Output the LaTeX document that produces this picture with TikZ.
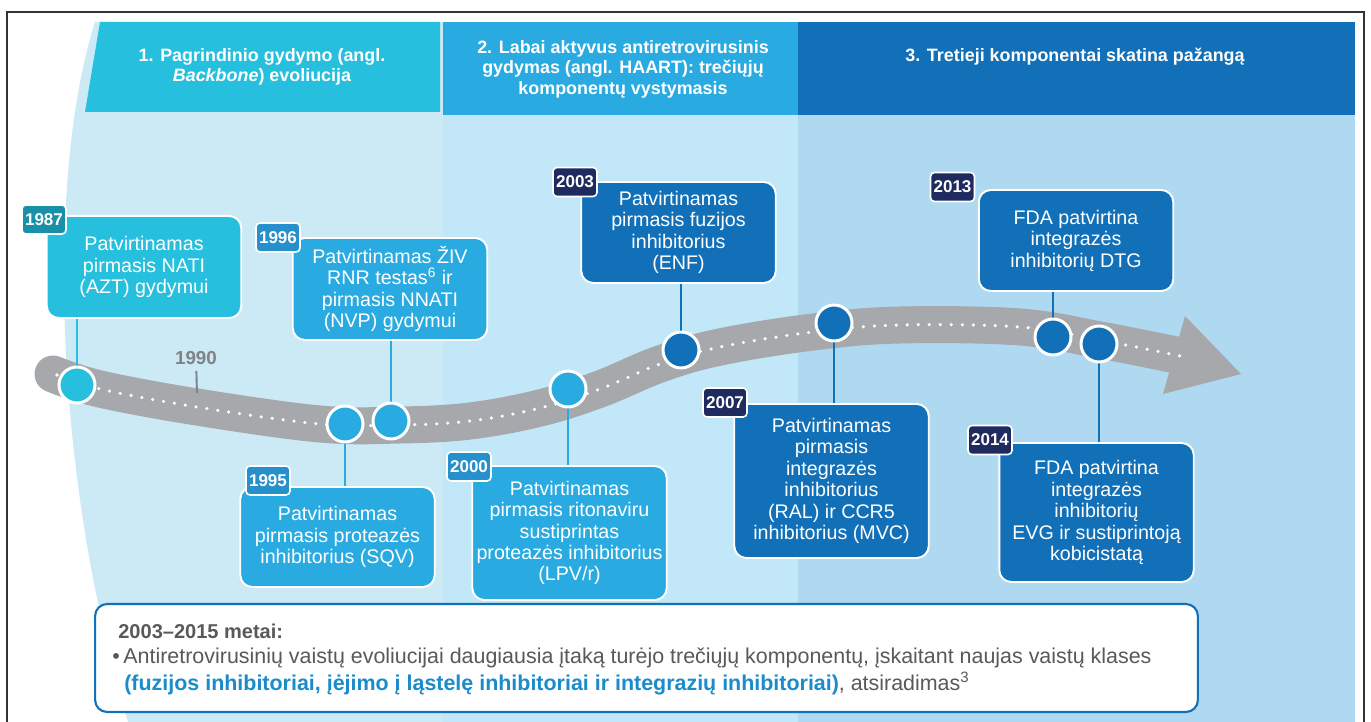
\documentclass[tikz,border=0pt]{standalone}
\usepackage{fontspec}
\setmainfont{Liberation Sans}
\definecolor{hivteal}{HTML}{26BFDD}
\definecolor{hivblue}{HTML}{29ABE2}
\definecolor{hivdark}{HTML}{1170B8}
\definecolor{tagteal}{HTML}{1A8FA8}
\definecolor{tagblue}{HTML}{2590CC}
\definecolor{tagnavy}{HTML}{1F2A5E}
\definecolor{roadgray}{HTML}{A6A8AB}
\definecolor{panelone}{HTML}{CCEAF5}
\definecolor{paneltwo}{HTML}{C1E7F8}
\definecolor{panelthree}{HTML}{AED9F1}
\definecolor{notegray}{HTML}{58595B}
\definecolor{noteblue}{HTML}{1A8CCB}
\definecolor{yeargray}{HTML}{808285}
\pgfdeclarelayer{bg}
\pgfdeclarelayer{links}
\pgfsetlayers{bg,links,main}
\begin{document}
\begin{tikzpicture}[x=0.02cm, y=-0.02cm,
            event/.style={draw=white, line width=1.1pt, rounded corners=0.24cm, text=white, align=center,
                minimum width=3.89cm, inner sep=1pt, font=\fontsize{11.2}{12.2}\selectfont},
            year/.style={draw=white, line width=0.9pt, rounded corners=0.08cm, text=white,
                minimum width=0.88cm, minimum height=0.58cm, inner sep=0pt, font=\bfseries\fontsize{9.7}{10}\selectfont},
            stop/.style={circle, draw=white, line width=1.7pt, minimum size=0.72cm, inner sep=0pt},
            link/.style={line width=1.5pt},
            header/.style={text=white, align=center, font=\bfseries\fontsize{10.2}{11.6}\selectfont},
            noteline/.style={anchor=base west, inner sep=0pt, text=notegray, font=\fontsize{12.2}{13}\selectfont}]
            \useasboundingbox (0,0) rectangle (1371,722);

            \begin{pgfonlayer}{bg}
            \fill [panelone] (95,22) .. controls (45,180) and (55,480) .. (128,722) -- (443,722) -- (443,22) -- cycle;
            \fill [paneltwo] (443,22) rectangle (798,722);
            \fill [panelthree] (798,22) rectangle (1355,722);
            \fill [hivteal] (100,22) -- (440,22) -- (440,112) -- (85,112) -- cycle;
            \fill [hivblue] (443,22) rectangle (798,115);
            \fill [hivdark] (798,22) rectangle (1355,115);

            \draw [roadgray, line width=0.74cm, line cap=round] plot [smooth, tension=0.6] coordinates {(53,374) (100,389) (197,407) (320,424) (400,425) (470,421) (540,408) (600,389) (660,364) (720,347) (813,332) (900,325) (1020,327) (1100,340) (1176,355)};
            \fill [roadgray] (1185,316) -- (1241,374) -- (1163,394) -- cycle;
            \draw [white, line width=2pt, line cap=round, dash pattern=on 0pt off 0.22cm] plot [smooth, tension=0.6] coordinates {(57,375) (100,389) (197,407) (320,424) (400,425) (470,421) (540,408) (600,389) (660,364) (720,347) (813,332) (900,325) (1020,327) (1100,340) (1185,357)};
            \end{pgfonlayer}

            \draw [line width=0.9pt, black!80] (7,722) -- (7,12) -- (1364,12) -- (1364,722);

            \node [header] (h1) at (262,67) {1. Pagrindinio gydymo (angl.\\\textit{Backbone}) evoliucija};
            \node [header] (h2) at (623,69) {2. Labai aktyvus antiretrovirusinis\\gydymas (angl. HAART): trečiųjų\\komponentų vystymasis};
            \node [header] (h3) at (1075,57) {3. Tretieji komponentai skatina pažangą};

            \node [text=yeargray, font=\bfseries\fontsize{10.7}{11}\selectfont] (y1990) at (196,358) {1990};
            \coordinate (t1990) at (197,393);
            \draw [yeargray, line width=1.1pt] (y1990) -- (t1990);

            \node [event, fill=hivteal, minimum height=2.04cm] (b1987) at (144,267) {Patvirtinamas\\pirmasis NATI\\(AZT) gydymui};
            \node [event, fill=hivblue, minimum height=2.04cm] (b1996) at (390,289) {Patvirtinamas ŽIV\\RNR testas\textsuperscript{6} ir\\pirmasis NNATI\\(NVP) gydymui};
            \node [event, fill=hivblue, minimum height=2.0cm] (b1995) at (337.5,537) {Patvirtinamas\\pirmasis proteazės\\inhibitorius (SQV)};
            \node [event, fill=hivblue, minimum height=2.68cm] (b2000) at (569.5,533) {Patvirtinamas\\pirmasis ritonaviru\\sustiprintas\\proteazės inhibitorius\\(LPV/r)};
            \node [event, fill=hivdark, minimum height=2.02cm] (b2003) at (678.5,232.5) {Patvirtinamas\\pirmasis fuzijos\\inhibitorius\\(ENF)};
            \node [event, fill=hivdark, minimum height=3.08cm] (b2007) at (831.5,481) {Patvirtinamas\\pirmasis\\integrazės\\inhibitorius\\(RAL) ir CCR5\\inhibitorius (MVC)};
            \node [event, fill=hivdark, minimum height=2.02cm] (b2013) at (1076,240.5) {FDA patvirtina\\integrazės\\inhibitorių DTG};
            \node [event, fill=hivdark, minimum height=2.78cm] (b2014) at (1096.5,512.5) {FDA patvirtina\\integrazės\\inhibitorių\\EVG ir sustiprintoją\\kobicistatą};

            \node [year, fill=tagteal] (t1987) at (44,219.5) {1987};
            \node [year, fill=tagblue] (t1996) at (278,237.5) {1996};
            \node [year, fill=tagblue] (t1995) at (268,480.5) {1995};
            \node [year, fill=tagblue] (t2000) at (469,466.5) {2000};
            \node [year, fill=tagnavy] (t2003) at (575,182) {2003};
            \node [year, fill=tagnavy] (t2007) at (725,402.5) {2007};
            \node [year, fill=tagnavy] (t2013) at (952.5,187) {2013};
            \node [year, fill=tagnavy] (t2014) at (990,440) {2014};

            \node [stop, fill=hivteal] (c1987) at (77,385) {};
            \node [stop, fill=hivblue] (c1995) at (345,424) {};
            \node [stop, fill=hivblue] (c1996) at (391,421) {};
            \node [stop, fill=hivblue] (c2000) at (568,389) {};
            \node [stop, fill=hivdark] (c2003) at (681,350) {};
            \node [stop, fill=hivdark] (c2007) at (834,323) {};
            \node [stop, fill=hivdark] (c2013) at (1053,337) {};
            \node [stop, fill=hivdark] (c2014) at (1099,344) {};

            \begin{pgfonlayer}{links}
            \draw [link, hivteal] (c1987 |- b1987.center) -- (c1987.center);
            \draw [link, hivblue] (c1995 |- b1995.center) -- (c1995.center);
            \draw [link, hivblue] (c1996 |- b1996.center) -- (c1996.center);
            \draw [link, hivblue] (c2000 |- b2000.center) -- (c2000.center);
            \draw [link, hivdark] (c2003 |- b2003.center) -- (c2003.center);
            \draw [link, hivdark] (c2007 |- b2007.center) -- (c2007.center);
            \draw [link, hivdark] (c2013 |- b2013.center) -- (c2013.center);
            \draw [link, hivdark] (c2014 |- b2014.center) -- (c2014.center);
            \end{pgfonlayer}

            \node [draw=hivdark, line width=1.2pt, rounded corners=0.24cm, fill=white, minimum width=22.06cm, minimum height=2.16cm] (note) at (646.5,658) {};
            \node [noteline, font=\bfseries\fontsize{11.4}{12}\selectfont] (notehead) at (118,638) {2003–2015 metai:};
            \node [noteline] (notebody) at (112,663) {\textbullet\,Antiretrovirusinių vaistų evoliucijai daugiausia įtaką turėjo trečiųjų komponentų, įskaitant naujas vaistų klases};
            \node [noteline] (notetail) at (124,690) {\textcolor{noteblue}{\bfseries(fuzijos inhibitoriai, įėjimo į ląstelę inhibitoriai ir integrazių inhibitoriai)}, atsiradimas\textsuperscript{3}};
        \end{tikzpicture}
\end{document}
